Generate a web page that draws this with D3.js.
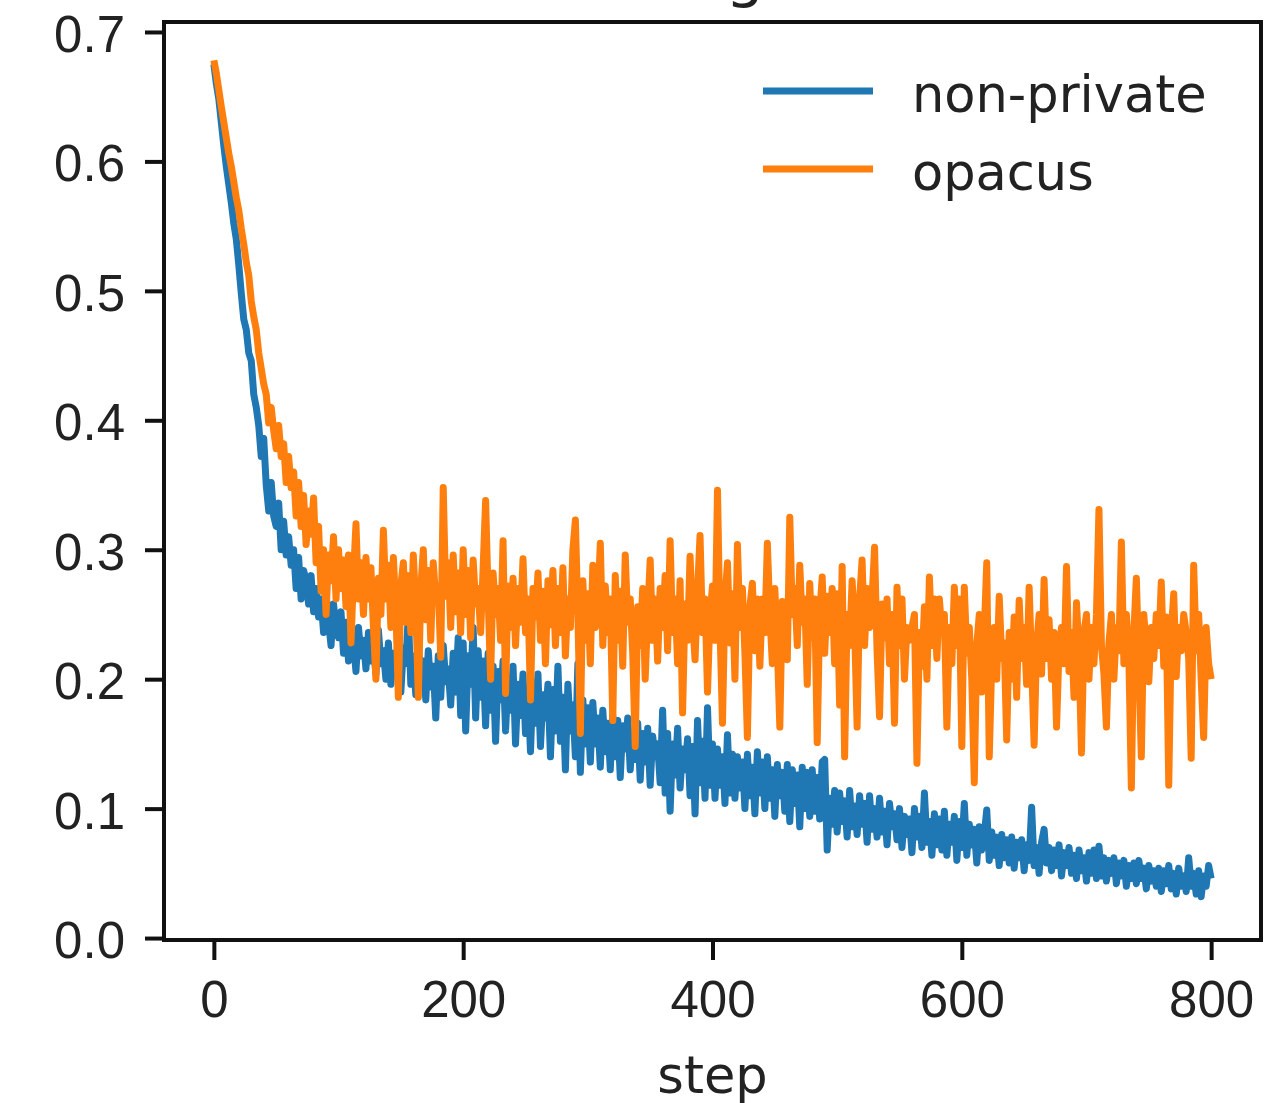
<!DOCTYPE html>
<html>
<head>
<meta charset="utf-8">
<script src="https://cdn.jsdelivr.net/npm/d3@7"></script>
<style>
  body { margin: 0; background: #fff; }
  svg { display: block; font-family: 'DejaVu Sans', sans-serif; }
  .axis text { font-size: 51px; fill: #222; }
  .axis line { stroke: #111; stroke-width: 4; }
  .axis .domain { display: none; }
</style>
</head>
<body>
<div id="chart"></div>
<script>
// loss logged every 2nd step
const STEP = 2;

const nonPrivate = [
  0.675, 0.660, 0.648, 0.630, 0.612, 0.596, 0.582, 0.568, 0.552, 0.540,
  0.520, 0.498, 0.478, 0.470, 0.452, 0.446, 0.420, 0.410, 0.396, 0.372,
  0.386, 0.350, 0.330, 0.352, 0.326, 0.318, 0.336, 0.300, 0.322, 0.296,
  0.310, 0.288, 0.300, 0.270, 0.294, 0.262, 0.284, 0.276, 0.258, 0.280,
  0.252, 0.270, 0.248, 0.262, 0.236, 0.266, 0.244, 0.226, 0.258, 0.240,
  0.232, 0.252, 0.220, 0.244, 0.214, 0.238, 0.228, 0.206, 0.240, 0.218,
  0.230, 0.208, 0.236, 0.214, 0.226, 0.204, 0.238, 0.212, 0.222, 0.200,
  0.228, 0.196, 0.220, 0.206, 0.234, 0.190, 0.224, 0.212, 0.250, 0.196,
  0.218, 0.188, 0.226, 0.200, 0.214, 0.184, 0.222, 0.194, 0.210, 0.170,
  0.218, 0.186, 0.226, 0.198, 0.208, 0.180, 0.220, 0.190, 0.232, 0.172,
  0.228, 0.160, 0.218, 0.196, 0.240, 0.170, 0.222, 0.186, 0.214, 0.164,
  0.220, 0.176, 0.210, 0.152, 0.206, 0.184, 0.214, 0.160, 0.200, 0.176,
  0.210, 0.150, 0.196, 0.172, 0.204, 0.158, 0.190, 0.144, 0.198, 0.166,
  0.204, 0.148, 0.188, 0.170, 0.196, 0.140, 0.192, 0.160, 0.210, 0.152,
  0.186, 0.130, 0.196, 0.160, 0.180, 0.140, 0.212, 0.128, 0.184, 0.150,
  0.178, 0.136, 0.182, 0.150, 0.170, 0.132, 0.176, 0.144, 0.166, 0.130,
  0.172, 0.140, 0.168, 0.124, 0.164, 0.146, 0.170, 0.130, 0.160, 0.138,
  0.166, 0.122, 0.158, 0.136, 0.162, 0.118, 0.156, 0.140, 0.150, 0.120,
  0.176, 0.112, 0.158, 0.098, 0.150, 0.126, 0.162, 0.116, 0.146, 0.130,
  0.154, 0.110, 0.148, 0.096, 0.168, 0.120, 0.152, 0.108, 0.178, 0.118,
  0.150, 0.108, 0.146, 0.118, 0.140, 0.104, 0.157, 0.112, 0.142, 0.108,
  0.140, 0.116, 0.136, 0.100, 0.142, 0.110, 0.132, 0.096, 0.144, 0.112,
  0.136, 0.100, 0.140, 0.108, 0.130, 0.094, 0.134, 0.110, 0.128, 0.098,
  0.134, 0.090, 0.130, 0.104, 0.126, 0.086, 0.132, 0.100, 0.128, 0.094,
  0.130, 0.098, 0.124, 0.092, 0.136, 0.138, 0.068, 0.108, 0.088, 0.114,
  0.082, 0.112, 0.090, 0.106, 0.078, 0.114, 0.086, 0.102, 0.080, 0.110,
  0.088, 0.104, 0.074, 0.110, 0.084, 0.100, 0.078, 0.108, 0.082, 0.098,
  0.072, 0.104, 0.086, 0.096, 0.076, 0.100, 0.070, 0.094, 0.080, 0.092,
  0.066, 0.100, 0.078, 0.094, 0.070, 0.112, 0.074, 0.090, 0.064, 0.096,
  0.072, 0.092, 0.068, 0.098, 0.064, 0.088, 0.074, 0.094, 0.060, 0.090,
  0.070, 0.104, 0.064, 0.088, 0.072, 0.084, 0.058, 0.086, 0.068, 0.080,
  0.099, 0.060, 0.082, 0.064, 0.078, 0.056, 0.080, 0.062, 0.076, 0.058,
  0.078, 0.054, 0.074, 0.062, 0.076, 0.052, 0.072, 0.060, 0.101, 0.056,
  0.070, 0.050, 0.074, 0.084, 0.058, 0.070, 0.052, 0.068, 0.056, 0.072,
  0.048, 0.066, 0.056, 0.070, 0.050, 0.064, 0.046, 0.068, 0.052, 0.062,
  0.044, 0.066, 0.050, 0.068, 0.046, 0.071, 0.048, 0.062, 0.044, 0.060,
  0.050, 0.062, 0.042, 0.058, 0.048, 0.060, 0.040, 0.056, 0.046, 0.058,
  0.042, 0.060, 0.046, 0.054, 0.038, 0.056, 0.044, 0.052, 0.040, 0.054,
  0.036, 0.052, 0.042, 0.056, 0.038, 0.050, 0.034, 0.054, 0.040, 0.048,
  0.036, 0.062, 0.040, 0.050, 0.034, 0.052, 0.032, 0.048, 0.040, 0.056,
  0.046
];

const opacus = [
  0.678, 0.668, 0.655, 0.642, 0.630, 0.618, 0.606, 0.596, 0.584, 0.572,
  0.562, 0.548, 0.536, 0.522, 0.512, 0.492, 0.480, 0.470, 0.452, 0.440,
  0.428, 0.420, 0.398, 0.410, 0.392, 0.378, 0.396, 0.372, 0.382, 0.352,
  0.372, 0.348, 0.360, 0.326, 0.352, 0.318, 0.342, 0.304, 0.330, 0.312,
  0.340, 0.290, 0.318, 0.268, 0.300, 0.250, 0.296, 0.276, 0.310, 0.262,
  0.300, 0.270, 0.292, 0.256, 0.296, 0.228, 0.280, 0.320, 0.262, 0.290,
  0.250, 0.294, 0.262, 0.286, 0.240, 0.200, 0.278, 0.250, 0.315, 0.262,
  0.288, 0.240, 0.294, 0.254, 0.186, 0.272, 0.290, 0.244, 0.280, 0.236,
  0.296, 0.256, 0.186, 0.270, 0.300, 0.246, 0.284, 0.230, 0.290, 0.262,
  0.272, 0.217, 0.348, 0.264, 0.290, 0.240, 0.296, 0.252, 0.282, 0.236,
  0.300, 0.250, 0.284, 0.232, 0.292, 0.258, 0.270, 0.236, 0.286, 0.338,
  0.264, 0.200, 0.282, 0.250, 0.270, 0.230, 0.307, 0.189, 0.272, 0.240,
  0.278, 0.226, 0.270, 0.244, 0.293, 0.236, 0.262, 0.184, 0.270, 0.248,
  0.282, 0.230, 0.268, 0.212, 0.276, 0.242, 0.284, 0.226, 0.270, 0.236,
  0.286, 0.218, 0.262, 0.240, 0.300, 0.323, 0.250, 0.158, 0.276, 0.230,
  0.266, 0.212, 0.288, 0.240, 0.258, 0.305, 0.226, 0.272, 0.236, 0.262,
  0.168, 0.280, 0.230, 0.268, 0.210, 0.296, 0.244, 0.262, 0.220, 0.148,
  0.256, 0.226, 0.270, 0.200, 0.250, 0.292, 0.230, 0.262, 0.214, 0.270,
  0.240, 0.280, 0.222, 0.307, 0.236, 0.262, 0.212, 0.276, 0.174, 0.258,
  0.230, 0.295, 0.246, 0.215, 0.268, 0.311, 0.236, 0.262, 0.190, 0.250,
  0.272, 0.230, 0.346, 0.240, 0.166, 0.262, 0.290, 0.228, 0.266, 0.200,
  0.304, 0.240, 0.270, 0.220, 0.155, 0.256, 0.274, 0.222, 0.262, 0.210,
  0.262, 0.236, 0.305, 0.250, 0.212, 0.270, 0.226, 0.163, 0.260, 0.240,
  0.215, 0.325, 0.250, 0.270, 0.226, 0.288, 0.244, 0.262, 0.196, 0.274,
  0.232, 0.262, 0.151, 0.250, 0.279, 0.220, 0.264, 0.236, 0.270, 0.212,
  0.266, 0.180, 0.287, 0.140, 0.250, 0.226, 0.276, 0.240, 0.163, 0.262,
  0.292, 0.226, 0.270, 0.240, 0.262, 0.302, 0.222, 0.171, 0.258, 0.232,
  0.262, 0.212, 0.250, 0.166, 0.271, 0.226, 0.262, 0.200, 0.240, 0.230,
  0.240, 0.250, 0.135, 0.236, 0.210, 0.256, 0.200, 0.279, 0.226, 0.262,
  0.216, 0.262, 0.236, 0.250, 0.163, 0.240, 0.212, 0.271, 0.226, 0.262,
  0.148, 0.271, 0.220, 0.240, 0.200, 0.120, 0.226, 0.250, 0.190, 0.236,
  0.290, 0.140, 0.212, 0.240, 0.200, 0.264, 0.216, 0.228, 0.153, 0.236,
  0.200, 0.248, 0.186, 0.261, 0.216, 0.240, 0.196, 0.271, 0.212, 0.149,
  0.226, 0.250, 0.204, 0.277, 0.216, 0.246, 0.200, 0.236, 0.163, 0.224,
  0.240, 0.212, 0.287, 0.206, 0.236, 0.186, 0.259, 0.220, 0.143, 0.236,
  0.250, 0.200, 0.240, 0.212, 0.250, 0.331, 0.226, 0.204, 0.163, 0.228,
  0.250, 0.200, 0.240, 0.222, 0.306, 0.212, 0.250, 0.216, 0.116, 0.236,
  0.278, 0.212, 0.140, 0.250, 0.222, 0.198, 0.240, 0.216, 0.250, 0.226,
  0.275, 0.210, 0.248, 0.118, 0.236, 0.266, 0.202, 0.240, 0.222, 0.250,
  0.236, 0.216, 0.139, 0.288, 0.222, 0.250, 0.200, 0.155, 0.240, 0.212,
  0.200
];

const seriesNames = ['non-private', 'opacus'];
const seriesColors = ['#1f77b4', '#ff7f0e'];
const xTicks = [0, 200, 400, 600, 800];
const yTicks = [0.0, 0.1, 0.2, 0.3, 0.4, 0.5, 0.6, 0.7];

const width = 1281, height = 1103;
const box = { left: 164, right: 1261, top: 22, bottom: 940 };
const lineWidth = 7;

const svg = d3.select('#chart').append('svg')
  .attr('width', width)
  .attr('height', height);

const x = d3.scaleLinear()
  .domain([-40, 840])
  .range([box.left, box.right]);

const y = d3.scaleLinear()
  .domain([-0.0015, 0.7077])
  .range([box.bottom, box.top]);

const line = d3.line()
  .x((d, i) => x(i * STEP))
  .y((d) => y(d));

svg.selectAll('path.series')
  .data([nonPrivate, opacus])
  .enter().append('path')
  .attr('class', 'series')
  .attr('d', line)
  .attr('fill', 'none')
  .attr('stroke', (d, i) => seriesColors[i])
  .attr('stroke-width', lineWidth)
  .attr('stroke-linejoin', 'round');

svg.append('g')
  .attr('class', 'axis')
  .attr('transform', `translate(${box.left},0)`)
  .call(d3.axisLeft(y)
    .tickValues(yTicks)
    .tickFormat(d3.format('.1f'))
    .tickSize(19)
    .tickPadding(20))
  .selectAll('text')
  .attr('dy', '0.38em');

svg.append('g')
  .attr('class', 'axis')
  .attr('transform', `translate(0,${box.bottom})`)
  .call(d3.axisBottom(x)
    .tickValues(xTicks)
    .tickSize(20)
    .tickPadding(21));

// spines
svg.append('rect')
  .attr('x', box.left)
  .attr('y', box.top)
  .attr('width', box.right - box.left)
  .attr('height', box.bottom - box.top)
  .attr('fill', 'none')
  .attr('stroke', '#111')
  .attr('stroke-width', 4);

// title sits mostly above the visible area, as in the source
svg.append('text')
  .attr('x', (box.left + box.right) / 2)
  .attr('y', -5)
  .attr('text-anchor', 'middle')
  .style('font-size', '61px')
  .style('fill', '#222')
  .text('Training loss');

svg.append('text')
  .attr('x', (box.left + box.right) / 2)
  .attr('y', 1093)
  .attr('text-anchor', 'middle')
  .style('font-size', '51px')
  .style('fill', '#222')
  .text('step');

const legend = svg.append('g').attr('class', 'legend');
const rows = legend.selectAll('g')
  .data(seriesNames)
  .enter().append('g')
  .attr('transform', (d, i) => `translate(0,${91 + i * 78})`);

rows.append('line')
  .attr('x1', 763)
  .attr('x2', 873)
  .attr('stroke', (d, i) => seriesColors[i])
  .attr('stroke-width', lineWidth);

rows.append('text')
  .attr('x', 912)
  .attr('y', 21)
  .style('font-size', '51px')
  .style('fill', '#222')
  .text((d) => d);
</script>
</body>
</html>
